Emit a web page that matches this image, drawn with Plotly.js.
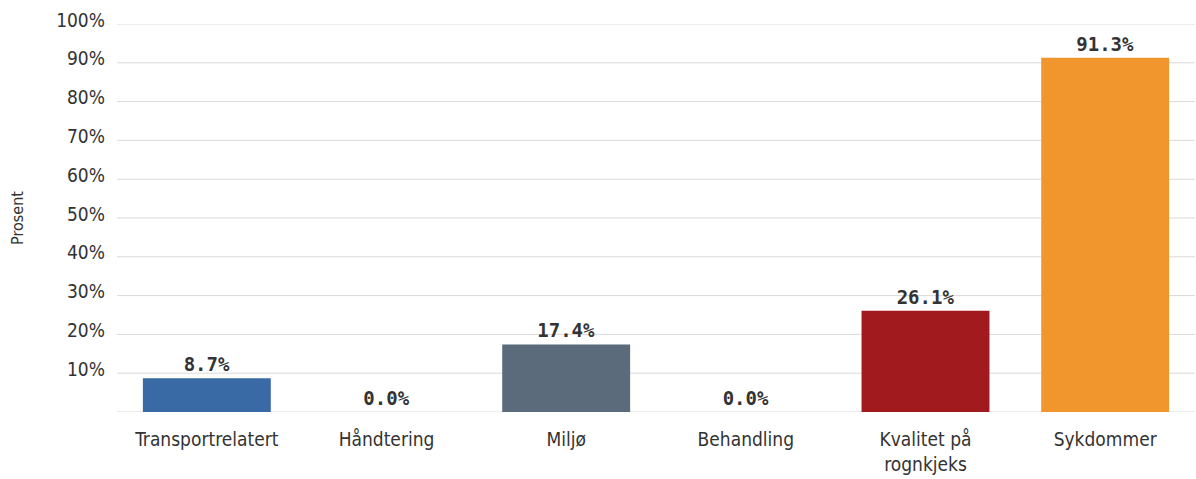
<!DOCTYPE html>
<html>
<head>
<meta charset="utf-8">
<script src="https://cdn.plot.ly/plotly-3.0.1.min.js"></script>
<style>html,body{margin:0;padding:0;background:#fff;}#chart{width:1196px;height:479px;}</style>
</head>
<body>
<div id="chart"></div>
<script>
const categories = ["Transportrelatert", "Håndtering", "Miljø", "Behandling", "Kvalitet på<br>rognkjeks", "Sykdommer"];
const values = [8.7, 0.0, 17.4, 0.0, 26.1, 91.3];
const barColors = ["#3a6aa6", "#3a6aa6", "#5b6b7b", "#5b6b7b", "#a11a1d", "#f0962d"];
const tickVals = [10, 20, 30, 40, 50, 60, 70, 80, 90, 100];
const tickText = ["10%", "20%", "30%", "40%", "50%", "60%", "70%", "80%", "90%", "100%"];
const gridVals = [0, 10, 20, 30, 40, 50, 60, 70, 80, 90, 100];

const labelFont = "'DejaVu Sans Condensed', 'Liberation Sans Narrow', 'DejaVu Sans', sans-serif";

const trace = {
  type: "bar",
  x: categories,
  y: values,
  marker: {color: barColors},
  text: values.map(v => v.toFixed(1) + "%"),
  textposition: "outside",
  cliponaxis: false,
  textfont: {family: "'DejaVu Sans Mono', monospace", size: 19, color: "#333333", weight: "bold"},
  hoverinfo: "none"
};

const shapes = gridVals.map(v => ({
  type: "line", xref: "paper", yref: "y", x0: 0, x1: 1, y0: v, y1: v,
  line: {color: "#d9d9d9", width: 1}, layer: "below"
}));

const layout = {
  width: 1196, height: 479,
  margin: {l: 117, r: 1, t: 24, b: 67},
  paper_bgcolor: "#ffffff", plot_bgcolor: "#ffffff",
  showlegend: false,
  bargap: 0.288,
  shapes: shapes,
  xaxis: {
    type: "category",
    showgrid: false, zeroline: false, showline: false, ticks: "",
    tickfont: {family: labelFont, size: 19, color: "#333333"},
    ticklabelstandoff: 14
  },
  yaxis: {
    range: [0, 100],
    showgrid: false, zeroline: false, showline: false, ticks: "",
    tickvals: tickVals, ticktext: tickText,
    tickfont: {family: labelFont, size: 19, color: "#333333"},
    ticklabelstandoff: 11,
    ticklabelshift: -4,
    title: {text: "Prosent", font: {family: labelFont, size: 16, color: "#333333"}, standoff: 28}
  }
};

Plotly.newPlot("chart", [trace], layout, {staticPlot: true, displayModeBar: false});
</script>
</body>
</html>
